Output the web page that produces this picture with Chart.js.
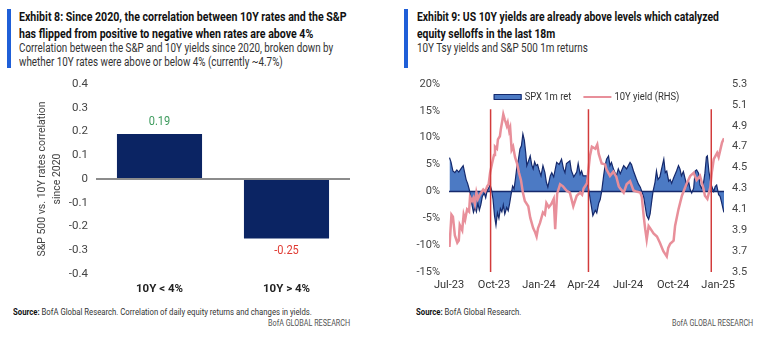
<!DOCTYPE html>
<html>
<head>
<meta charset="utf-8">
<script src="https://cdn.jsdelivr.net/npm/chart.js@4.4.1/dist/chart.umd.min.js"></script>
<style>
  body { margin: 0; width: 762px; height: 337px; background: #fff; position: relative; overflow: hidden;
         font-family: Roboto, "Liberation Sans", sans-serif; color: #222; }
  .accent { position: absolute; top: 9px; width: 4px; height: 59px; background: #1f5fd8; }
  .fit { position: absolute; white-space: nowrap; transform-origin: 0 0; }
  .title { top: 9px; font-weight: bold; font-size: 12px; line-height: 16.5px; color: #111; }
  .sub { top: 41px; font-size: 12px; line-height: 14px; color: #333; }
  canvas { position: absolute; top: 74px; }
  .source { top: 307px; font-size: 9px; color: #333; }
  .source b { color: #111; }
  .brand { top: 318px; font-size: 9px; color: #555; }
</style>
</head>
<body>

<div class="accent" style="left:7px"></div>
<div class="fit title" id="t8" style="left:19px">Exhibit 8: Since 2020, the correlation between 10Y rates and the S&amp;P<br>has flipped from positive to negative when rates are above 4%</div>
<div class="fit sub" id="s8" style="left:19px">Correlation between the S&amp;P and 10Y yields since 2020, broken down by<br>whether 10Y rates were above or below 4% (currently ~4.7%)</div>
<canvas id="corrChart" width="381" height="225" style="left:0"></canvas>
<div class="fit source" id="src8" style="left:13px"><b>Source:</b> BofA Global Research. Correlation of daily equity returns and changes in yields.</div>
<div class="fit brand" id="br8" style="left:268px">BofA GLOBAL RESEARCH</div>

<div class="accent" style="left:404px"></div>
<div class="fit title" id="t9" style="left:417px">Exhibit 9: US 10Y yields are already above levels which catalyzed<br>equity selloffs in the last 18m</div>
<div class="fit sub" id="s9" style="left:417px">10Y Tsy yields and S&amp;P 500 1m returns</div>
<canvas id="yieldChart" width="381" height="225" style="left:381px"></canvas>
<div class="fit source" id="src9" style="left:416px"><b>Source:</b> BofA Global Research.</div>
<div class="fit brand" id="br9" style="left:672px">BofA GLOBAL RESEARCH</div>

<script>
// ---- Exhibit 8 data ----
const corrLabels = ['10Y < 4%', '10Y > 4%'];
const corrValues = [0.19, -0.25];

// ---- Exhibit 9 data (x = days since 1 Jul 2023) ----
const spxDays = [1, 4, 8, 12, 16, 20, 25, 29, 32, 35, 38, 41, 44, 47, 50, 53, 56, 59, 62, 65,
  68, 72, 75, 78, 81, 84, 87, 90, 93, 96, 99, 102, 105, 108, 111, 114, 118, 121, 124, 127,
  130, 133, 136, 139, 142, 145, 148, 151, 154, 157, 159, 163, 166, 169, 172, 175, 178, 181, 184, 188,
  192, 196, 199, 202, 207, 210, 214, 220, 225, 230, 234, 237, 240, 247, 250, 255, 261, 264, 268, 271,
  274, 281, 285, 288, 294, 299, 302, 306, 309, 312, 316, 319, 322, 326, 329, 332, 336, 342, 346, 350,
  357, 363, 370, 373, 377, 383, 387, 391, 394, 398, 404, 408, 411, 414, 417, 421, 424, 427, 431, 434,
  439, 442, 445, 449, 452, 455, 459, 465, 469, 472, 475, 479, 483, 486, 490, 493, 496, 500, 503, 506,
  510, 513, 516, 520, 523, 526, 528, 531, 534, 537, 541, 544, 547, 551, 554, 557, 561, 562];
const spxRet = [6.3, 5.5, 3.8, 3.5, 4.0, 3.6, 4.3, 4.8, 3.5, 2.2, 1.5, 0.5, -0.8, -2.5, -3.9, -3.0, -3.8, -2.2, -3.5, -2.5,
  -1.0, -0.3, -1.2, 0.2, 0.6, 1.2, 0.3, -1.5, -4.5, -6.3, -4.0, -5.0, -3.2, -3.8, -2.5, -4.2, -3.0, -3.6, -2.2, -0.5,
  1.0, 0.5, 2.5, 4.8, 6.0, 7.9, 8.5, 10.7, 9.5, 7.0, 4.8, 5.8, 6.6, 5.0, 4.2, 5.5, 4.8, 5.0, 4.0, 2.9,
  4.8, 3.5, 1.7, 0.8, 2.9, 3.5, 2.7, 5.4, 5.0, 6.0, 4.2, 3.5, 5.2, 5.7, 3.9, 2.7, 3.6, 5.2, 3.2, 3.8,
  2.9, 2.9, 0.6, -1.1, -4.5, -3.5, -4.0, -2.2, -1.5, 0.0, 2.9, 4.8, 6.0, 6.6, 4.8, 5.4, 4.2, 2.9, 4.2, 3.3,
  4.8, 4.2, 5.4, 5.0, 3.8, 2.3, 1.4, 0.8, 0.0, -1.1, -4.5, -5.2, -4.2, -2.0, 0.0, 1.7, 3.8, 2.2, 2.7, 4.0,
  6.0, 3.5, 3.8, 1.9, 2.2, 1.5, 2.5, 3.8, 4.8, 4.2, 2.9, 3.7, 2.2, 1.0, 1.7, 0.3, -0.3, 0.6, 3.8, 4.0,
  3.4, 1.2, 0.6, 1.5, 3.4, 6.4, 6.6, 3.8, 2.1, 0.9, 0.0, 0.9, 1.2, -0.6, -0.9, -2.0, -3.6, -3.9];

const yieldDays = [1, 5, 8, 12, 17, 20, 22, 27, 30, 33, 37, 41, 43, 47, 50, 53, 56, 59, 63, 70,
  74, 78, 81, 84, 88, 92, 94, 98, 100, 104, 106, 109, 111, 114, 118, 120, 123, 125, 128, 131,
  135, 139, 143, 147, 151, 155, 162, 166, 169, 172, 176, 179, 182, 186, 192, 196, 199, 204, 209, 214,
  217, 221, 227, 233, 240, 247, 254, 261, 268, 272, 275, 282, 288, 292, 299, 303, 306, 312, 319, 322,
  329, 336, 342, 347, 350, 357, 363, 370, 377, 383, 391, 394, 398, 401, 404, 408, 411, 418, 425, 431,
  438, 445, 448, 452, 459, 462, 469, 476, 486, 493, 500, 506, 513, 520, 523, 528, 534, 537, 541, 548,
  551, 554, 558, 562];
const yieldVals = [3.74, 4.05, 4.03, 3.85, 3.78, 3.80, 3.95, 3.90, 4.05, 4.00, 4.10, 4.08, 4.22, 4.18, 4.21, 4.15, 4.26, 4.20, 4.24, 4.29,
  4.27, 4.32, 4.34, 4.45, 4.54, 4.62, 4.70, 4.68, 4.77, 4.80, 4.87, 4.95, 5.01, 4.96, 4.90, 4.93, 4.85, 4.88, 4.67, 4.70,
  4.60, 4.54, 4.45, 4.38, 4.26, 4.18, 4.13, 4.02, 3.97, 3.92, 3.88, 3.84, 3.92, 3.97, 4.07, 4.05, 4.16, 4.12, 4.15, 4.20,
  3.91, 4.25, 4.34, 4.32, 4.28, 4.26, 4.13, 4.23, 4.26, 4.24, 4.30, 4.35, 4.61, 4.70, 4.68, 4.72, 4.63, 4.54, 4.53, 4.48,
  4.42, 4.46, 4.41, 4.32, 4.30, 4.26, 4.34, 4.37, 4.28, 4.27, 4.26, 4.22, 4.03, 3.91, 3.81, 3.94, 3.92, 3.87, 3.84, 3.78,
  3.70, 3.65, 3.73, 3.77, 3.80, 3.94, 4.10, 4.23, 4.35, 4.42, 4.45, 4.38, 4.42, 4.30, 4.23, 4.20, 4.31, 4.45, 4.58, 4.64,
  4.60, 4.66, 4.74, 4.78];

// days at which the big selloffs started
const selloffDays = [85, 285, 536];

const monthTicks = [0, 92, 184, 275, 366, 458, 550];
const monthLabels = ['Jul-23', 'Oct-23', 'Jan-24', 'Apr-24', 'Jul-24', 'Oct-24', 'Jan-25'];
const yieldTicks = [3.5, 3.7, 3.9, 4.1, 4.3, 4.5, 4.7, 4.9, 5.1, 5.3];

// squeeze header / footer text into a condensed look
function fitWidth(id, w) {
  const el = document.getElementById(id);
  const s = w / el.offsetWidth;
  el.style.transform = 'scaleX(' + s + ')';
  return s;
}
fitWidth('t8', 328);
fitWidth('s8', 314);
fitWidth('t9', 302);
fitWidth('s9', 171);
const srcScale = fitWidth('src8', 299);
document.getElementById('src9').style.transform = 'scaleX(' + srcScale + ')';
fitWidth('br8', 82);
fitWidth('br9', 81);

const FONT = 'Roboto, "Liberation Sans", sans-serif';
Chart.defaults.font.family = FONT;
Chart.defaults.font.size = 11;
Chart.defaults.color = '#444';

// condensed text helper for the plugins below
function narrowText(ctx, text, x, y, sx) {
  ctx.save();
  ctx.translate(x, y);
  ctx.scale(sx, 1);
  ctx.fillText(text, 0, 0);
  ctx.restore();
}

// keep the plot area where the layout padding puts it
function fixWidth(w) {
  return s => { s.width = w; s.paddingTop = 0; s.paddingBottom = 0; };
}

// value labels above / below the correlation bars
const valueLabels = {
  id: 'valueLabels',
  afterDatasetsDraw(chart) {
    const ctx = chart.ctx;
    chart.getDatasetMeta(0).data.forEach((bar, i) => {
      const v = corrValues[i];
      ctx.save();
      ctx.font = '12px ' + FONT;
      ctx.textAlign = 'center';
      ctx.textBaseline = 'middle';
      ctx.fillStyle = v >= 0 ? '#3c9a5c' : '#e03a32';
      narrowText(ctx, v.toFixed(2), bar.x, v >= 0 ? bar.y - 12 : bar.y + 13, 0.92);
      ctx.restore();
    });
  }
};

new Chart(document.getElementById('corrChart'), {
  type: 'bar',
  data: {
    labels: corrLabels,
    datasets: [{
      data: corrValues,
      backgroundColor: '#0b2463',
      barPercentage: 0.67,
      categoryPercentage: 1
    }]
  },
  options: {
    responsive: false,
    animation: false,
    layout: { padding: { top: 10, right: 31 } },
    plugins: { legend: { display: false }, tooltip: { enabled: false } },
    scales: {
      x: {
        grid: { display: false, drawTicks: false },
        border: { display: false },
        ticks: { color: '#222', padding: 8, font: { weight: 'bold', size: 11.5 } },
        afterFit(s) { s.height = 25; }
      },
      y: {
        min: -0.4,
        max: 0.4,
        ticks: { stepSize: 0.1, padding: 8, font: { size: 11.5 } },
        grid: {
          drawTicks: false,
          lineWidth: 2,
          color: c => Math.abs(c.tick.value) < 1e-9 ? '#8c8c8c' : 'transparent'
        },
        border: { display: false },
        title: {
          display: true,
          text: ['S&P 500 vs. 10Y rates correlation', 'since 2020'],
          color: '#444',
          font: { size: 10.5, lineHeight: 1.43 },
          padding: { top: 34.5 }
        },
        afterFit: fixWidth(96)
      }
    }
  },
  plugins: [valueLabels]
});

// ---- Exhibit 9 ----
const spxPoints = spxDays.map((d, i) => ({ x: d, y: spxRet[i] }));
const yieldPoints = yieldDays.map((d, i) => ({ x: d, y: yieldVals[i] }));

const markerSets = selloffDays.map(d => ({
  data: [{ x: d, y: -16 }, { x: d, y: 15.3 }],
  yAxisID: 'y',
  borderColor: '#d23b3b',
  borderWidth: 1.5,
  pointRadius: 0,
  order: 0
}));

// legend drawn inside the top of the plot area
const insideLegend = {
  id: 'insideLegend',
  afterDraw(chart) {
    const { ctx, chartArea } = chart;
    const items = chart.data.datasets.filter(d => d.label);
    const boxW = 28, gap = 3, itemGap = 12, sx = 0.82;
    ctx.save();
    ctx.font = '11.5px ' + FONT;
    const widths = items.map(d => boxW + gap + ctx.measureText(d.label).width * sx);
    const total = widths.reduce((a, b) => a + b, 0) + itemGap * (items.length - 1);
    let x = (chartArea.left + chartArea.right) / 2 - total / 2;
    const y = chartArea.top + 13;
    items.forEach((d, i) => {
      if (d.fill) {
        ctx.fillStyle = d.backgroundColor;
        ctx.fillRect(x, y - 2.5, boxW, 5);
        ctx.strokeStyle = d.borderColor;
        ctx.lineWidth = 1;
        ctx.strokeRect(x + 0.5, y - 2.5, boxW - 1, 5);
      } else {
        ctx.strokeStyle = d.borderColor;
        ctx.lineWidth = 2;
        ctx.beginPath();
        ctx.moveTo(x, y);
        ctx.lineTo(x + boxW, y);
        ctx.stroke();
      }
      ctx.fillStyle = '#333';
      ctx.textAlign = 'left';
      ctx.textBaseline = 'middle';
      narrowText(ctx, d.label, x + boxW + gap, y, sx);
      x += widths[i] + itemGap;
    });
    ctx.restore();
  }
};

new Chart(document.getElementById('yieldChart'), {
  type: 'line',
  data: {
    datasets: [
      {
        label: 'SPX 1m ret',
        data: spxPoints,
        yAxisID: 'y',
        fill: 'origin',
        backgroundColor: '#4c7ac4',
        borderColor: '#15296c',
        borderWidth: 1.2,
        pointRadius: 0,
        order: 3
      },
      {
        label: '10Y yield (RHS)',
        data: yieldPoints,
        yAxisID: 'y1',
        borderColor: '#e88f9a',
        borderWidth: 2.5,
        pointRadius: 0,
        order: 1
      },
      {
        data: [{ x: 0, y: 0 }, { x: 562, y: 0 }],
        yAxisID: 'y',
        borderColor: '#15296c',
        borderWidth: 1.5,
        pointRadius: 0,
        order: 2
      },
      ...markerSets
    ]
  },
  options: {
    responsive: false,
    animation: false,
    layout: { padding: { top: 10 } },
    plugins: {
      tooltip: { enabled: false },
      legend: { display: false }
    },
    scales: {
      x: {
        type: 'linear',
        min: 0,
        max: 562,
        grid: { display: false, drawTicks: false },
        border: { display: false },
        afterBuildTicks(s) { s.ticks = monthTicks.map(v => ({ value: v })); },
        ticks: {
          padding: 7,
          color: '#333',
          autoSkip: false,
          maxRotation: 0,
          callback: v => monthLabels[monthTicks.indexOf(v)]
        },
        afterFit(s) { s.height = 27; }
      },
      y: {
        position: 'left',
        min: -15,
        max: 20,
        grid: { display: false, drawTicks: false },
        border: { display: false },
        ticks: { stepSize: 5, padding: 9, callback: v => v + '%' },
        afterFit: fixWidth(68)
      },
      y1: {
        position: 'right',
        min: 3.5,
        max: 5.3,
        grid: { display: false, drawTicks: false },
        border: { display: false },
        afterBuildTicks(s) { s.ticks = yieldTicks.map(v => ({ value: v })); },
        ticks: { padding: 8, callback: v => v.toFixed(1) },
        afterFit: fixWidth(38)
      }
    }
  },
  plugins: [insideLegend]
});
</script>
</body>
</html>
